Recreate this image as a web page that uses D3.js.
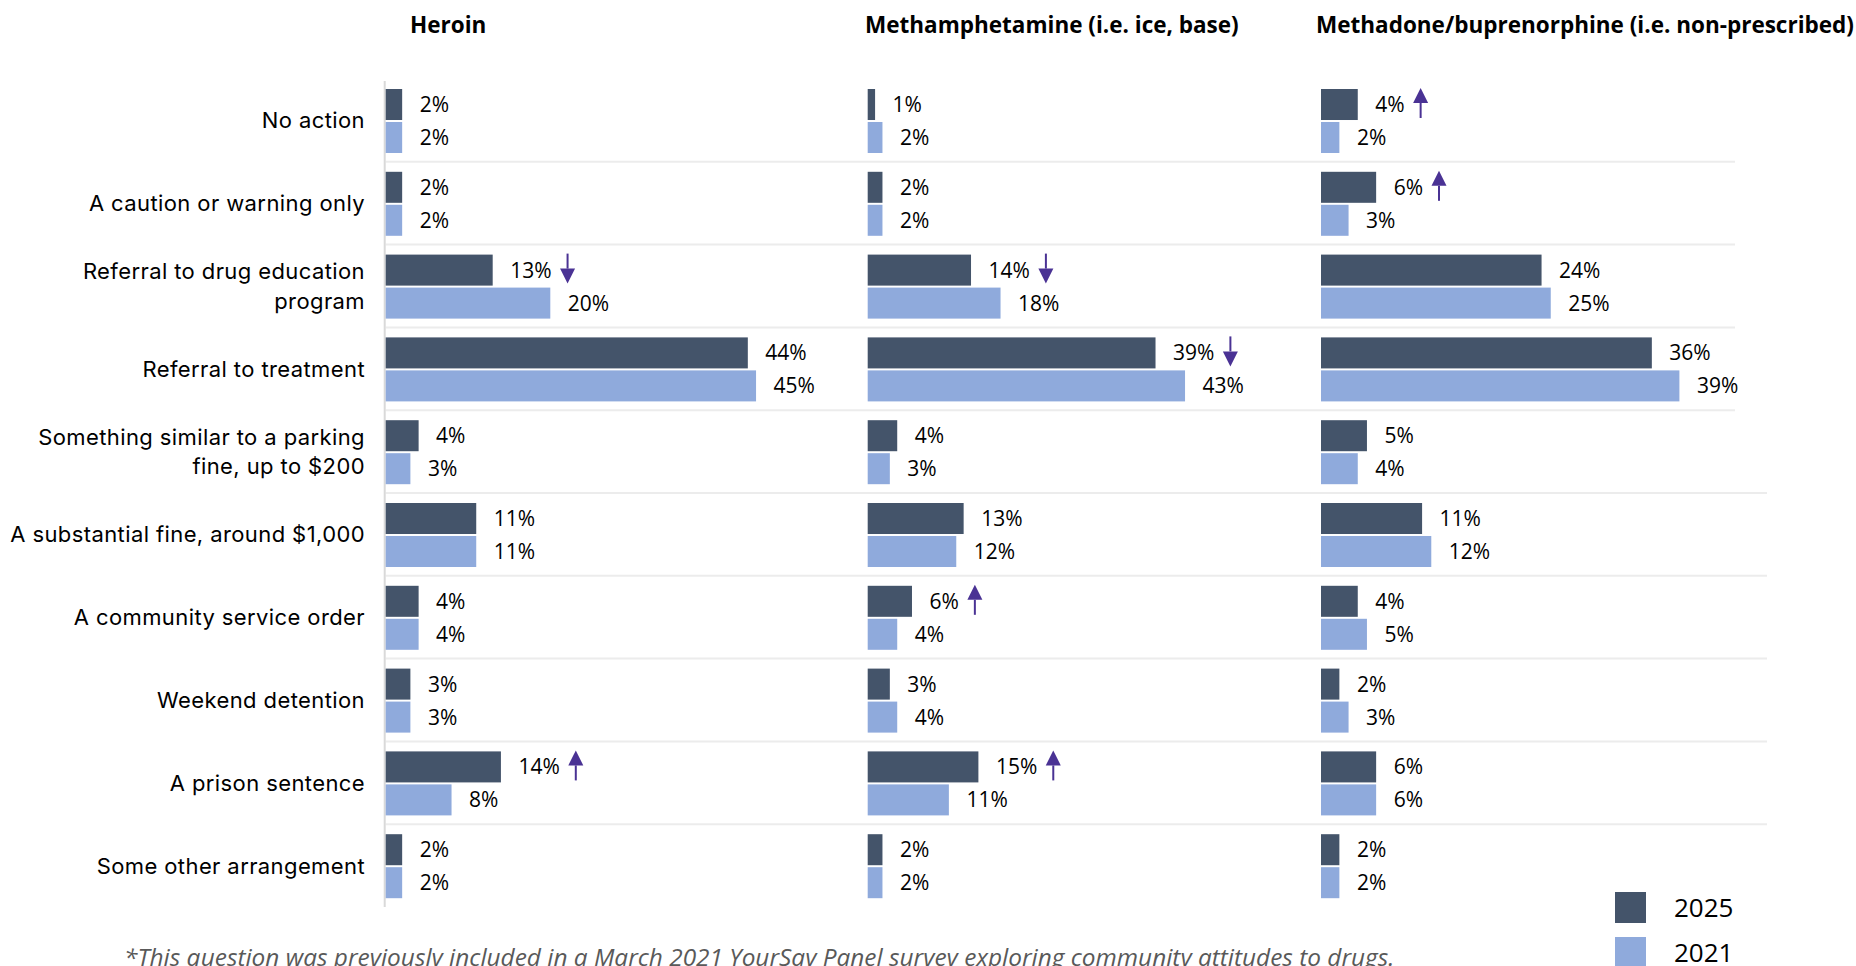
<!DOCTYPE html>
<html>
<head>
<meta charset="utf-8">
<script src="https://cdn.jsdelivr.net/npm/d3@7"></script>
<style>
  html, body { margin: 0; padding: 0; background: #fff; }
  svg { display: block; }
</style>
</head>
<body>
<div id="chart"></div>
<script>
// rows, wrapped the same way as the original labels
const categories = [
  ['No action'],
  ['A caution or warning only'],
  ['Referral to drug education', 'program'],
  ['Referral to treatment'],
  ['Something similar to a parking', 'fine, up to $200'],
  ['A substantial fine, around $1,000'],
  ['A community service order'],
  ['Weekend detention'],
  ['A prison sentence'],
  ['Some other arrangement'],
];
const years = ['2025', '2021'];
const yearColors = ['#44546a', '#8faadc'];
const drugs = ['Heroin', 'Methamphetamine (i.e. ice, base)', 'Methadone/buprenorphine (i.e. non-prescribed)'];

const heroin2025 = [2, 2, 13, 44, 4, 11, 4, 3, 14, 2];
const heroin2021 = [2, 2, 20, 45, 3, 11, 4, 3, 8, 2];
const meth2025 = [1, 2, 14, 39, 4, 13, 6, 3, 15, 2];
const meth2021 = [2, 2, 18, 43, 3, 12, 4, 4, 11, 2];
const methadone2025 = [4, 6, 24, 36, 5, 11, 4, 2, 6, 2];
const methadone2021 = [2, 3, 25, 39, 4, 12, 5, 3, 6, 2];

// significant change since 2021: 1 = up, -1 = down
const heroinChange = [0, 0, -1, 0, 0, 0, 0, 0, 1, 0];
const methChange = [0, 0, -1, -1, 0, 0, 1, 0, 1, 0];
const methadoneChange = [1, 1, 0, 0, 0, 0, 0, 0, 0, 0];

const footnote = '*This question was previously included in a March 2021 YourSay Panel survey exploring community attitudes to drugs.';

const size = { width: 1856, height: 966 };
const labelFont = 'Inter, "Open Sans", sans-serif';
const numFont = '"Open Sans", "Noto Sans", sans-serif';
const arrowColor = '#4a3294';

// each drug is its own little chart with its own x scale
const panels = [
  { title: drugs[0], x0: 385.7, w: 411.5, titleX: 410, v: [heroin2025, heroin2021], change: heroinChange },
  { title: drugs[1], x0: 867.7, w: 369, titleX: 865, v: [meth2025, meth2021], change: methChange },
  { title: drugs[2], x0: 1321, w: 459.5, titleX: 1316, v: [methadone2025, methadone2021], change: methadoneChange },
];

const svg = d3.select('#chart').append('svg')
  .attr('width', size.width)
  .attr('height', size.height);

const rowKeys = d3.range(categories.length);
const y = d3.scaleBand().domain(rowKeys).range([79, 907]);
const ySeries = d3.scaleBand().domain(years).range([10, 74]).paddingInner(0.06);

// row separators
svg.append('g')
  .selectAll('line')
  .data(rowKeys.slice(1))
  .join('line')
  .attr('x1', panels[0].x0)
  .attr('x2', (i) => (i <= 4 ? 1735 : 1767))
  .attr('y1', (i) => y(i))
  .attr('y2', (i) => y(i))
  .attr('stroke', '#ececec')
  .attr('stroke-width', 2);

// vertical axis of the first chart
svg.append('line')
  .attr('x1', panels[0].x0 - 1)
  .attr('x2', panels[0].x0 - 1)
  .attr('y1', 81)
  .attr('y2', 907)
  .attr('stroke', '#d9d9d9')
  .attr('stroke-width', 2);

// category labels
const catText = svg.append('g')
  .selectAll('text')
  .data(categories)
  .join('text')
  .attr('x', 365)
  .attr('y', (d, i) => y(i) + y.bandwidth() / 2)
  .attr('text-anchor', 'end')
  .style('font-family', labelFont)
  .style('font-size', '22px')
  .style('letter-spacing', '0.4px')
  .style('fill', '#000');

catText.selectAll('tspan')
  .data((d) => d.map((line, j) => ({ line, j, n: d.length })))
  .join('tspan')
  .attr('x', 365)
  .attr('dy', (t) => (t.j === 0 ? `${0.36 - (t.n - 1) * 0.675}em` : '1.35em'))
  .text((t) => t.line);

panels.forEach((p) => {
  const x = d3.scaleLinear().domain([0, 50]).range([p.x0, p.x0 + p.w]);
  const g = svg.append('g');

  g.append('text')
    .text(p.title)
    .attr('x', p.titleX)
    .attr('y', 33)
    .style('font-family', numFont)
    .style('font-weight', 700)
    .style('font-size', '22.5px')
    .style('fill', '#000');

  years.forEach((yr, s) => {
    const vals = p.v[s];
    g.append('g')
      .selectAll('rect')
      .data(vals)
      .join('rect')
      .attr('x', x(0))
      .attr('y', (d, i) => y(i) + ySeries(yr))
      .attr('width', (d) => x(d) - x(0))
      .attr('height', ySeries.bandwidth())
      .attr('fill', yearColors[s]);

    const labels = g.append('g')
      .selectAll('text')
      .data(vals)
      .join('text')
      .attr('x', (d) => x(d) + 17.5)
      .attr('y', (d, i) => y(i) + ySeries(yr) + ySeries.bandwidth() / 2)
      .attr('dy', '0.36em')
      .style('font-family', numFont)
      .style('font-size', '21px')
      .style('fill', '#000')
      .text((d) => `${d}%`);

    if (s === 0) {
      labels.each(function (d, i) {
        const dir = p.change[i];
        if (!dir) return;
        const box = this.getBBox();
        const cx = box.x + box.width + 16;
        const top = y(i) + ySeries(yr) - 1;
        const bottom = top + ySeries.bandwidth() - 1;
        const tip = dir > 0 ? top : bottom;
        const tail = dir > 0 ? bottom : top;
        const headBase = tip + dir * 15;
        g.append('line')
          .attr('x1', cx)
          .attr('x2', cx)
          .attr('y1', tail)
          .attr('y2', headBase)
          .attr('stroke', arrowColor)
          .attr('stroke-width', 2);
        g.append('path')
          .attr('d', `M${cx},${tip}L${cx - 7.5},${headBase}L${cx + 7.5},${headBase}Z`)
          .attr('fill', arrowColor);
      });
    }
  });
});

// footnote, partly cut by the bottom edge as in the source
svg.append('text')
  .text(footnote)
  .attr('x', 124)
  .attr('y', 966)
  .style('font-family', numFont)
  .style('font-style', 'italic')
  .style('font-size', '24.4px')
  .style('fill', '#595959');

// legend
const legend = svg.append('g')
  .selectAll('g')
  .data(years)
  .join('g')
  .attr('transform', (d, i) => `translate(1615, ${892 + i * 45})`);

legend.append('rect')
  .attr('width', 31)
  .attr('height', 31)
  .attr('fill', (d, i) => yearColors[i]);

legend.append('text')
  .text((d) => d)
  .attr('x', 59)
  .attr('y', 25)
  .style('font-family', numFont)
  .style('font-size', '26px')
  .style('fill', '#000');
</script>
</body>
</html>
